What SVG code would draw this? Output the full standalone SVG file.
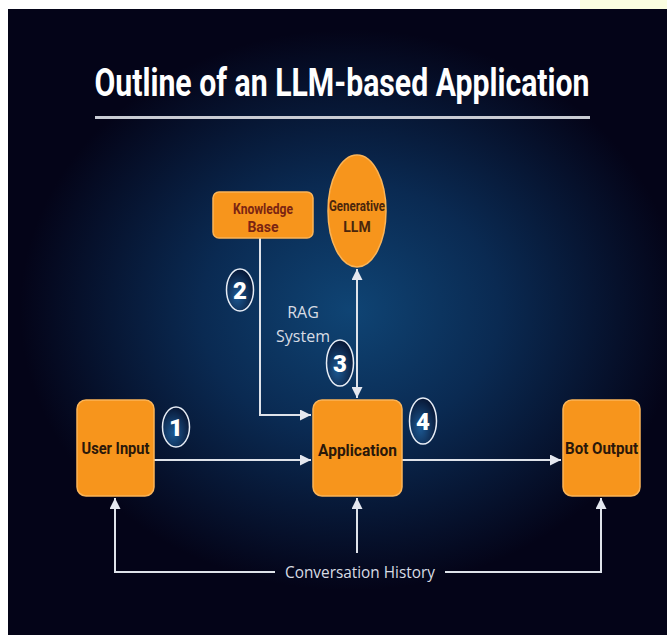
<svg xmlns="http://www.w3.org/2000/svg" width="667" height="635" viewBox="0 0 667 635">
<defs>
<radialGradient id="bg" cx="350" cy="310" r="330" gradientUnits="userSpaceOnUse" gradientTransform="translate(350 310) scale(1 0.85) translate(-350 -310)">
<stop offset="0" stop-color="#0f4474"/>
<stop offset="0.45" stop-color="#0a2a52"/>
<stop offset="1" stop-color="#040418"/>
</radialGradient>
<radialGradient id="badge" cx="0.4" cy="0.65" r="0.7">
<stop offset="0" stop-color="#1d5a94"/>
<stop offset="1" stop-color="#06122e"/>
</radialGradient>
<marker id="ah" viewBox="0 0 10 10" refX="10" refY="5" markerWidth="11" markerHeight="11" markerUnits="userSpaceOnUse" orient="auto-start-reverse">
<path d="M0,0 L10,5 L0,10 z" fill="#e4e7ef"/>
</marker>
<style>
.box{fill:#f7951c;stroke:#fbb457;stroke-width:1.5}
.lbl{font-family:Roboto,"Liberation Sans",sans-serif;font-weight:bold;fill:#2a180a;text-anchor:middle}
.small{font-family:Roboto,"Liberation Sans",sans-serif;font-weight:bold;font-size:14px;text-anchor:middle}
.line{fill:none;stroke:#dfe3ea;stroke-width:2}
.badge{fill:url(#badge);stroke:#e6ecf5;stroke-width:1.5}
.num{font-family:Roboto,"Liberation Sans",sans-serif;font-weight:900;font-size:24px;fill:#ffffff;text-anchor:middle}
.note{font-family:"Open Sans","Liberation Sans",sans-serif;fill:#d8dce4;text-anchor:middle}
</style>
</defs>
<rect x="0" y="0" width="667" height="635" fill="#ffffff"/>
<rect x="580" y="0" width="87" height="9" fill="#fafde0"/>
<rect x="8" y="9" width="659" height="626" fill="url(#bg)"/>

<g id="title">
<text x="342" y="96" font-family="Roboto,'Liberation Sans',sans-serif" font-weight="bold" font-size="38" fill="#ffffff" text-anchor="middle" textLength="495" lengthAdjust="spacingAndGlyphs">Outline of an LLM-based Application</text>
<rect x="95" y="116" width="495" height="3" fill="#c9ccd4"/>
</g>

<g id="connectors">
<path class="line" d="M260,238 V415 H311" marker-end="url(#ah)"/>
<path class="line" d="M357,269 V398" marker-start="url(#ah)" marker-end="url(#ah)"/>
<path class="line" d="M154,460 H311" marker-end="url(#ah)"/>
<path class="line" d="M402,460 H561" marker-end="url(#ah)"/>
<path class="line" d="M275,572 H115 V498" marker-end="url(#ah)"/>
<path class="line" d="M445,572 H601 V498" marker-end="url(#ah)"/>
<path class="line" d="M357,553 V498" marker-end="url(#ah)"/>
</g>

<g id="knowledge-base">
<rect class="box" x="213" y="192" width="100" height="46" rx="6"/>
<text class="small" x="263" y="214" fill="#7a2412" textLength="60" lengthAdjust="spacingAndGlyphs">Knowledge</text>
<text class="small" x="263" y="232" fill="#7a2412">Base</text>
</g>

<g id="generative-llm">
<ellipse class="box" cx="357" cy="211" rx="29" ry="56"/>
<text class="small" x="357" y="211" fill="#4a260c" textLength="56" lengthAdjust="spacingAndGlyphs">Generative</text>
<text class="small" x="357" y="232" fill="#4a260c">LLM</text>
</g>

<g id="rag-label">
<text class="note" x="303" y="318" font-size="16">RAG</text>
<text class="note" x="303" y="342" font-size="16">System</text>
</g>

<g id="user-input">
<rect class="box" x="77" y="400" width="77" height="96" rx="9"/>
<text class="lbl" x="115.5" y="454" font-size="17" textLength="68" lengthAdjust="spacingAndGlyphs">User Input</text>
</g>

<g id="application">
<rect class="box" x="313" y="400" width="89" height="96" rx="9"/>
<text class="lbl" x="357.5" y="456" font-size="17" textLength="79" lengthAdjust="spacingAndGlyphs">Application</text>
</g>

<g id="bot-output">
<rect class="box" x="563" y="400" width="77" height="96" rx="9"/>
<text class="lbl" x="601.5" y="454" font-size="17" textLength="73" lengthAdjust="spacingAndGlyphs">Bot Output</text>
</g>

<g id="conversation-history">
<text class="note" x="360" y="578" font-size="17" textLength="150" lengthAdjust="spacingAndGlyphs">Conversation History</text>
</g>

<g id="badge-1">
<ellipse class="badge" cx="176" cy="427" rx="13.5" ry="20"/>
<text class="num" x="176" y="436">1</text>
</g>
<g id="badge-2">
<ellipse class="badge" cx="240" cy="290" rx="13.5" ry="21"/>
<text class="num" x="240" y="299">2</text>
</g>
<g id="badge-3">
<ellipse class="badge" cx="340" cy="363" rx="13.5" ry="23"/>
<text class="num" x="340" y="372">3</text>
</g>
<g id="badge-4">
<ellipse class="badge" cx="423" cy="421" rx="13.5" ry="23"/>
<text class="num" x="423" y="430">4</text>
</g>
</svg>
